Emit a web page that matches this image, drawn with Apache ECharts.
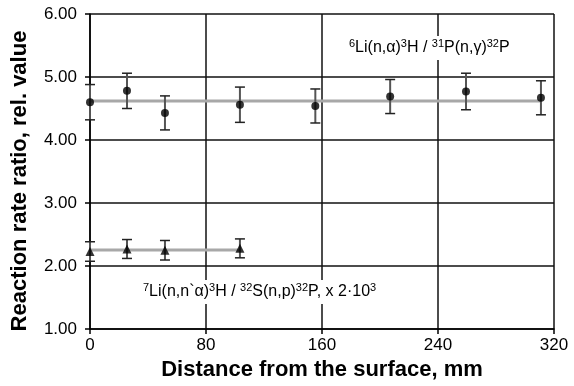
<!DOCTYPE html>
<html>
<head>
<meta charset="utf-8">
<script src="https://cdn.jsdelivr.net/npm/echarts@6/dist/echarts.min.js"></script>
<style>html,body{margin:0;padding:0;background:#fff}#c{width:574px;height:386px}</style>
</head>
<body>
<div id="c"></div>
<script>
// ---- data ----
const distanceLi6 = [0, 25.5, 51.7, 103.4, 155.4, 207, 259.3, 311];
const ratioLi6 = [4.60, 4.78, 4.43, 4.56, 4.54, 4.69, 4.77, 4.67];
const errLi6 = [0.28, 0.28, 0.27, 0.28, 0.27, 0.27, 0.29, 0.27];
const meanLi6 = 4.62;

const distanceLi7 = [0, 25.5, 51.7, 103.4];
const ratioLi7 = [2.23, 2.27, 2.25, 2.28];
const errLi7 = [0.155, 0.15, 0.155, 0.15];
const meanLi7 = 2.255;

const xTicks = [0, 80, 160, 240, 320];
const yTicks = [1, 2, 3, 4, 5, 6];

const xTitle = 'Distance from the surface, mm';
const yTitle = 'Reaction rate ratio, rel. value';
const labelLi6 = '{sup|6}Li(n,α){sup|3}H / {sup|31}P(n,γ){sup|32}P';
const labelLi7 = '{sup|7}Li(n,n`α){sup|3}H / {sup|32}S(n,p){sup|32}P, x 2·10{sup|3}';

// ---- chart ----
const FONT = '"Liberation Sans", Arial, sans-serif';
const chart = echarts.init(document.getElementById('c'), null, {renderer: 'canvas'});

function errData(xs, ys, es) {
  return xs.map((x, i) => [x, ys[i] - es[i], ys[i] + es[i]]);
}
function errRender(params, api) {
  const x = api.value(0);
  const lo = api.coord([x, api.value(1)]);
  const hi = api.coord([x, api.value(2)]);
  const w = 5;
  return {
    type: 'group',
    children: [
      {type: 'line', shape: {x1: lo[0], y1: lo[1], x2: hi[0], y2: hi[1]}, style: {stroke: '#555', lineWidth: 2}},
      {type: 'line', shape: {x1: lo[0] - w, y1: lo[1], x2: lo[0] + w, y2: lo[1]}, style: {stroke: '#222', lineWidth: 1.5}},
      {type: 'line', shape: {x1: hi[0] - w, y1: hi[1], x2: hi[0] + w, y2: hi[1]}, style: {stroke: '#222', lineWidth: 1.5}}
    ]
  };
}
const richSup = {
  sup: {fontSize: 11, fontFamily: FONT, color: '#000', verticalAlign: 'top', lineHeight: 11},
};

chart.setOption({
  animation: false,
  backgroundColor: '#fff',
  grid: {left: 90, right: 20, top: 14, bottom: 57},
  title: [
    {
      text: labelLi6,
      left: 347, top: 36,
      padding: [2, 2],
      backgroundColor: '#fff',
      textStyle: {fontSize: 16, fontWeight: 'normal', fontFamily: FONT, color: '#000', lineHeight: 20, rich: richSup}
    },
    {
      text: labelLi7,
      left: 141, top: 280,
      padding: [2, 2],
      backgroundColor: '#fff',
      textStyle: {fontSize: 16, fontWeight: 'normal', fontFamily: FONT, color: '#000', lineHeight: 20, rich: richSup}
    }
  ],
  graphic: [
    {
      type: 'text', x: 20, y: 181, rotation: Math.PI / 2,
      style: {text: yTitle, font: 'bold 22px ' + FONT, fill: '#000', align: 'center', verticalAlign: 'middle'}
    }
  ],
  xAxis: {
    type: 'value',
    min: xTicks[0], max: xTicks[xTicks.length - 1], interval: 80,
    name: xTitle,
    nameLocation: 'middle', nameGap: 27,
    nameTextStyle: {fontSize: 22, fontWeight: 'bold', fontFamily: FONT, color: '#000'},
    axisLine: {lineStyle: {color: '#000', width: 1.5}},
    axisTick: {show: true, length: 5, lineStyle: {color: '#000', width: 1.5}},
    axisLabel: {fontSize: 17, fontFamily: FONT, color: '#000', margin: 8},
    splitLine: {show: true, lineStyle: {color: '#111', width: 1.5}}
  },
  yAxis: {
    type: 'value',
    min: yTicks[0], max: yTicks[yTicks.length - 1], interval: 1,
    axisLine: {show: true, lineStyle: {color: '#000', width: 1.5}},
    axisTick: {show: true, length: 5, lineStyle: {color: '#000', width: 1.5}},
    axisLabel: {fontSize: 17, fontFamily: FONT, color: '#000', margin: 13, formatter: v => v.toFixed(2)},
    splitLine: {show: true, lineStyle: {color: '#111', width: 1.5}}
  },
  series: [
    {
      type: 'line', data: [[distanceLi6[0], meanLi6], [distanceLi6[distanceLi6.length - 1], meanLi6]],
      showSymbol: false, lineStyle: {color: '#a8a8a8', width: 3}, z: 2
    },
    {
      type: 'line', data: [[distanceLi7[0], meanLi7], [distanceLi7[distanceLi7.length - 1], meanLi7]],
      showSymbol: false, lineStyle: {color: '#a8a8a8', width: 3}, z: 2
    },
    {type: 'custom', renderItem: errRender, data: errData(distanceLi6, ratioLi6, errLi6), z: 3},
    {type: 'custom', renderItem: errRender, data: errData(distanceLi7, ratioLi7, errLi7), z: 3},
    {
      type: 'scatter', data: distanceLi6.map((x, i) => [x, ratioLi6[i]]),
      symbol: 'circle', symbolSize: 8, itemStyle: {color: '#000'}, z: 4
    },
    {
      type: 'scatter', data: distanceLi7.map((x, i) => [x, ratioLi7[i]]),
      symbol: 'triangle', symbolSize: 9, itemStyle: {color: '#000'}, z: 4
    }
  ]
});
</script>
</body>
</html>
